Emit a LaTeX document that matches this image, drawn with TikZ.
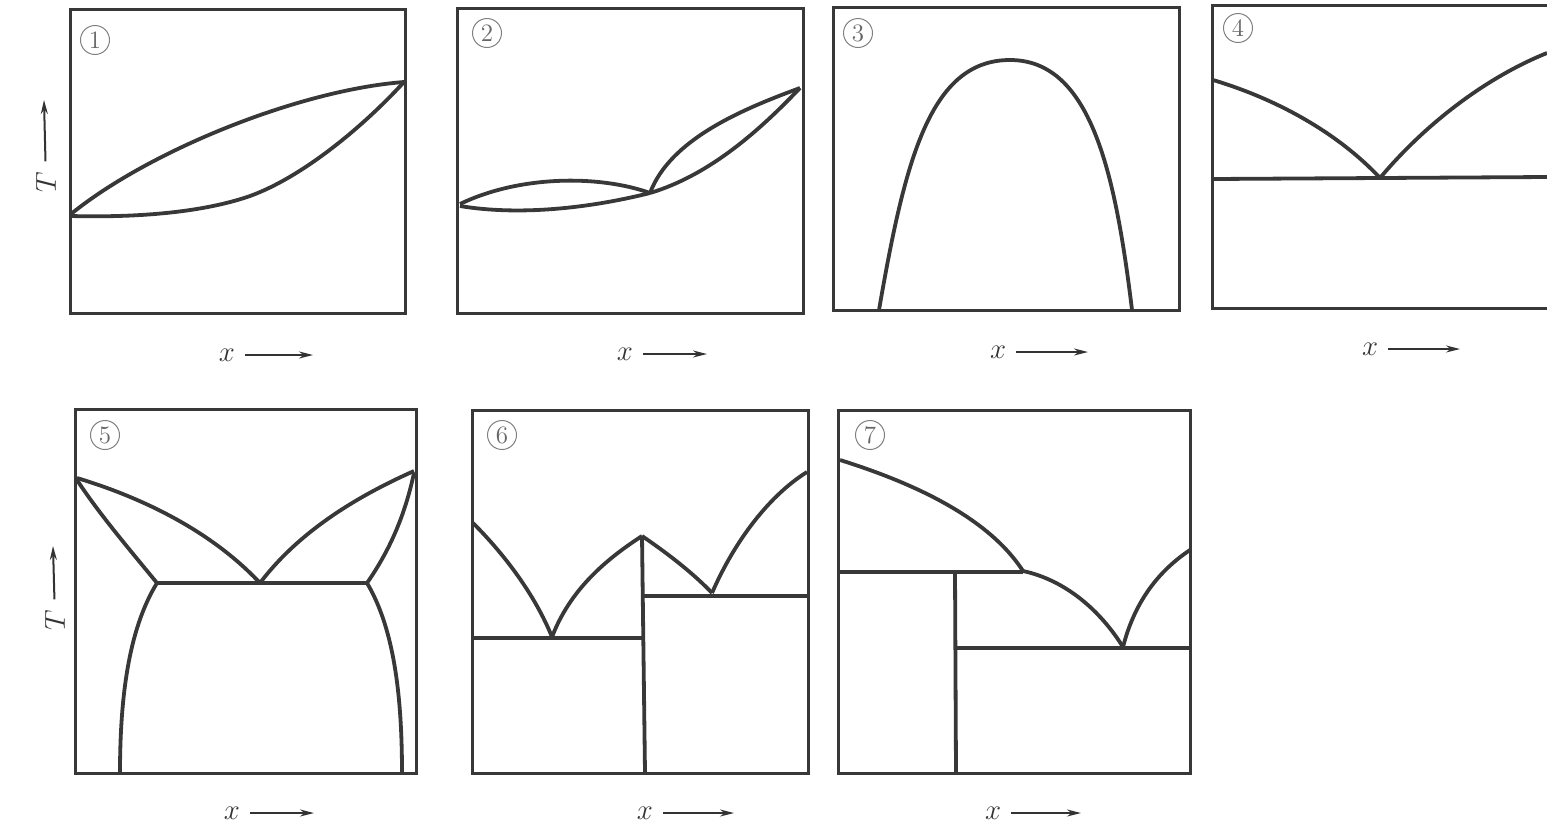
\documentclass[tikz,border=0pt]{standalone}
\usetikzlibrary{arrows.meta,positioning}
\begin{document}
\begin{tikzpicture}[
    x=0.5pt, y=-0.5pt,
    frame/.style={line width=1.5pt, draw=black!78},
    curve/.style={line width=1.9pt, draw=black!78, line join=round},
    num/.style={
        draw=black!50,
        circle,
        line width=0.5pt,
        inner sep=0pt,
        minimum size=14.5pt,
        text=black!60,
        font=\fontsize{12.5}{12.5}\selectfont
    },
    lab/.style={font=\fontsize{15}{15}\selectfont, text=black!80, inner sep=1pt},
    arr/.style={-{Stealth[length=7pt, width=3.5pt]}, line width=1pt, draw=black!80, shorten <=4pt}
]
    \useasboundingbox (0,0) rectangle (1547,826);

    %% Panel 1
    \draw[frame] (70,9) rectangle (405,313);
    \node[num] (n1) at (95,40) {1};
    \draw[curve] (71,214) .. controls (150,150) and (300,90) .. (404,82);
    \draw[curve] (71,216) .. controls (150,218) and (210,210) .. (250,196)
                          .. controls (300,178) and (360,130) .. (404,82);
    \node[lab, rotate=90] (t1) at (46,182) {$T$};
    \coordinate (t1e) at (44,100);
    \draw[arr] (t1) -- (t1e);
    \node[lab] (x1) at (227,355) {$x$};
    \coordinate (x1e) at (313,355);
    \draw[arr] (x1) -- (x1e);

    %% Panel 2
    \draw[frame] (457,8) rectangle (803,313);
    \node[num] (n2) at (487,33) {2};
    \draw[curve] (460,204) .. controls (520,175) and (600,175) .. (650,193);
    \draw[curve] (460,206) .. controls (520,216) and (590,208) .. (650,193);
    \draw[curve] (650,193) .. controls (670,140) and (740,110) .. (800,88);
    \draw[curve] (650,193) .. controls (710,175) and (760,130) .. (800,88);
    \node[lab] (x2) at (625,354) {$x$};
    \coordinate (x2e) at (707,354);
    \draw[arr] (x2) -- (x2e);

    %% Panel 3
    \draw[frame] (833,7) rectangle (1179,310);
    \node[num] (n3) at (858,33) {3};
    \draw[curve] (879,310) .. controls (905,160) and (930,60) .. (1010,60)
                           .. controls (1090,60) and (1115,170) .. (1132,310);
    \node[lab] (x3) at (998,352) {$x$};
    \coordinate (x3e) at (1088,352);
    \draw[arr] (x3) -- (x3e);

    %% Panel 4 (cut off at the right)
    \draw[frame] (1547,5) -- (1212,5) -- (1212,308) -- (1547,308);
    \node[num] (n4) at (1238,28) {4};
    \draw[curve] (1213,179) -- (1547,177);
    \draw[curve] (1213,80) .. controls (1280,100) and (1340,135) .. (1380,178);
    \draw[curve] (1380,178) .. controls (1420,130) and (1480,80) .. (1547,53);
    \node[lab] (x4) at (1370,349) {$x$};
    \coordinate (x4e) at (1460,349);
    \draw[arr] (x4) -- (x4e);

    %% Panel 5
    \draw[frame] (75,409) rectangle (416,773);
    \node[num] (n5) at (105,435) {5};
    \draw[curve] (77,478) .. controls (150,500) and (215,535) .. (260,583);
    \draw[curve] (260,583) .. controls (300,530) and (360,495) .. (414,471);
    \draw[curve] (77,480) .. controls (100,515) and (130,550) .. (157,583);
    \draw[curve] (414,473) .. controls (405,515) and (390,550) .. (367,583);
    \draw[curve] (157,583) -- (367,583);
    \draw[curve] (157,583) .. controls (128,630) and (120,700) .. (120,773);
    \draw[curve] (367,583) .. controls (395,630) and (402,700) .. (402,773);
    \node[lab, rotate=90] (t5) at (55,620) {$T$};
    \coordinate (t5e) at (53,546);
    \draw[arr] (t5) -- (t5e);
    \node[lab] (x5) at (232,813) {$x$};
    \coordinate (x5e) at (314,813);
    \draw[arr] (x5) -- (x5e);

    %% Panel 6
    \draw[frame] (472,410) rectangle (808,773);
    \node[num] (n6) at (502,435) {6};
    \draw[curve] (473,523) .. controls (505,555) and (535,595) .. (552,637);
    \draw[curve] (552,637) .. controls (570,590) and (605,560) .. (642,536);
    \draw[curve] (642,536) .. controls (670,555) and (695,575) .. (712,593);
    \draw[curve] (712,593) .. controls (735,540) and (770,495) .. (807,472);
    \draw[curve] (642,536) -- (645,773);
    \draw[curve] (473,638) -- (643,638);
    \draw[curve] (643,596) -- (808,596);
    \node[lab] (x6) at (645,813) {$x$};
    \coordinate (x6e) at (734,813);
    \draw[arr] (x6) -- (x6e);

    %% Panel 7
    \draw[frame] (838,410) rectangle (1190,773);
    \node[num] (n7) at (870,435) {7};
    \draw[curve] (840,460) .. controls (920,485) and (990,520) .. (1023,571);
    \draw[curve] (1023,571) .. controls (1065,580) and (1100,610) .. (1123,647);
    \draw[curve] (1123,647) .. controls (1135,600) and (1160,570) .. (1190,550);
    \draw[curve] (840,572) -- (1023,572);
    \draw[curve] (955,572) -- (956,773);
    \draw[curve] (955,648) -- (1190,648);
    \node[lab] (x7) at (993,813) {$x$};
    \coordinate (x7e) at (1081,813);
    \draw[arr] (x7) -- (x7e);
\end{tikzpicture}
\end{document}
